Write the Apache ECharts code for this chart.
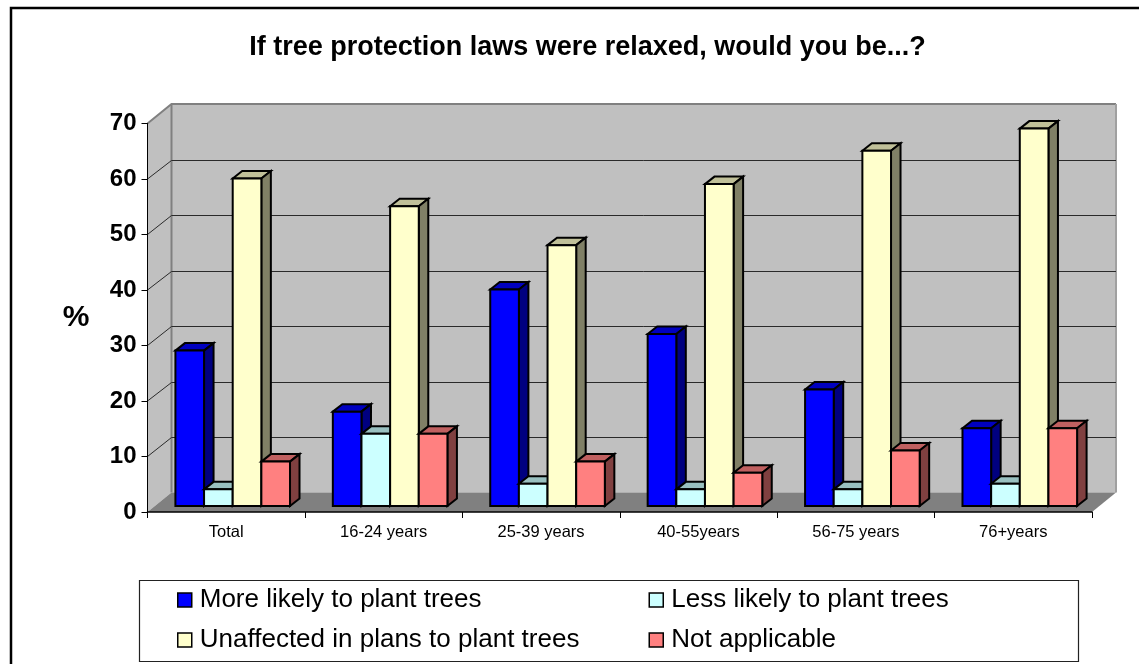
<!DOCTYPE html>
<html><head><meta charset="utf-8">
<style>html,body{margin:0;padding:0;background:#fff;overflow:hidden}#c{width:1139px;height:664px}</style>
<script src="https://cdn.jsdelivr.net/npm/echarts@6/dist/echarts.min.js"></script>
</head><body><div id="c"></div>
<script>
const categories = ['Total','16-24 years','25-39 years','40-55years','56-75 years','76+years'];
const moreLikely = [28,17,39,31,21,14];
const lessLikely = [3,13,4,3,3,4];
const unaffected = [59,54,47,58,64,68];
const notApplicable = [8,13,8,6,10,14];
const yTicks = [10,20,30,40,50,60];
const palette = [
  {name:'More likely to plant trees', values:moreLikely, front:'#0000ff', top:'#0000c0', side:'#000080'},
  {name:'Less likely to plant trees', values:lessLikely, front:'#ccffff', top:'#99c0c0', side:'#668080'},
  {name:'Unaffected in plans to plant trees', values:unaffected, front:'#ffffcc', top:'#c0c099', side:'#808066'},
  {name:'Not applicable', values:notApplicable, front:'#ff8080', top:'#c06060', side:'#804040'}
];
const DX=24, DY=-19.5;
const font='"Liberation Sans", Arial, sans-serif';
function poly(points, fill, stroke, lw){
  return {type:'polygon', shape:{points}, style:{fill, stroke:stroke||'none', lineWidth:lw||0, lineJoin:'miter'}};
}
function renderWall(params, api){
  const g=params.coordSys, l=g.x, t=g.y, r=g.x+g.width, b=g.y+g.height;
  return {type:'group', children:[
    poly([[l+DX,t+DY],[r+DX,t+DY],[r+DX,b+DY],[l+DX,b+DY]],'#c0c0c0'),
    poly([[l,t],[l+DX,t+DY],[l+DX,b+DY],[l,b]],'#c0c0c0'),
    poly([[l,b],[l+DX,b+DY],[r+DX,b+DY],[r,b]],'#808080'),
    {type:'polyline',shape:{points:[[l,t],[l+DX,t+DY],[r+DX,t+DY]]},style:{fill:'none',stroke:'#808080',lineWidth:2}},
    {type:'line',shape:{x1:l+DX,y1:t+DY,x2:l+DX,y2:b+DY},style:{stroke:'#808080',lineWidth:2}},
    {type:'line',shape:{x1:r+DX,y1:t+DY,x2:r+DX,y2:b+DY},style:{stroke:'#a0a0a0',lineWidth:2}}
  ]};
}
function renderGrid(params, api){
  const g=params.coordSys, p=api.coord([0,api.value(0)]);
  const y=p[1], l=g.x, r=g.x+g.width, by=Math.round(y+DY)+0.5;
  return {type:'polyline',shape:{points:[[l,y],[l+DX,by],[r+DX,by]]},style:{fill:'none',stroke:'#2a2a2a',lineWidth:1}};
}
function renderBar(si){
  return function(params, api){
    const c=palette[si];
    const top=api.coord([api.value(0),api.value(1)]);
    const base=api.coord([api.value(0),0]);
    const w=api.size([1,0])[0]*0.182;
    const x0=top[0]+6.5+(si-2)*w, x1=x0+w;
    const ys=base[1]-6, yt=top[1]-6;
    const dx=9.5, dy=-7.5;
    return {type:'group',children:[
      poly([[x0,yt],[x0+dx,yt+dy],[x1+dx,yt+dy],[x1,yt]],c.top,'#000',2),
      poly([[x1,yt],[x1+dx,yt+dy],[x1+dx,ys+dy],[x1,ys]],c.side,'#000',2),
      poly([[x0,yt],[x1,yt],[x1,ys],[x0,ys]],c.front,'#000',2)
    ]};
  };
}
const series=[
  {type:'custom',name:'walls',silent:true,z:1,clip:false,data:[[0]],renderItem:renderWall,encode:{x:0}},
  {type:'custom',name:'gridlines',silent:true,z:1.5,clip:false,data:yTicks.map(v=>[v]),renderItem:renderGrid,encode:{y:0}}
].concat(palette.map((s,i)=>({
  type:'custom',name:s.name,z:2,clip:false,itemStyle:{color:s.front},
  encode:{x:0,y:1},data:s.values.map((v,k)=>[k,v]),renderItem:renderBar(i)
})));
const legendBase={orient:'vertical',top:585,itemWidth:14,itemHeight:14,itemGap:10,
  textStyle:{fontFamily:font,fontSize:26,color:'#000',padding:[0,0,0,3],height:30,lineHeight:30},selectedMode:false,padding:0};
const item=(i)=>({name:palette[i].name,icon:'rect',itemStyle:{color:palette[i].front,borderColor:'#000',borderWidth:1.5}});
const chart=echarts.init(document.getElementById('c'),null,{renderer:'canvas'});
chart.setOption({
  animation:false,backgroundColor:'#fff',
  title:{text:'If tree protection laws were relaxed, would you be...?',left:587.5,top:34,padding:0,textAlign:'center',
    textStyle:{fontFamily:font,fontSize:27,fontWeight:'bold',color:'#000'}},
  grid:{left:147.5,right:47,top:123.5,bottom:152,containLabel:false},
  xAxis:{type:'category',data:categories,z:5,
    axisLine:{lineStyle:{color:'#000',width:1.5}},axisTick:{show:true,length:6,lineStyle:{color:'#000',width:1},alignWithLabel:false},
    axisLabel:{fontFamily:font,fontSize:16.5,color:'#000',margin:12,interval:0},splitLine:{show:false}},
  yAxis:{type:'value',min:0,max:70,interval:10,z:5,name:'%',nameLocation:'middle',nameRotate:0,nameGap:58,
    nameTextStyle:{fontFamily:font,fontSize:30,fontWeight:'bold',color:'#000',padding:[6,0,0,0]},
    axisLine:{show:true,lineStyle:{color:'#000',width:1}},axisTick:{show:true,length:6,lineStyle:{color:'#000',width:1}},
    axisLabel:{fontFamily:font,fontSize:24,fontWeight:'bold',color:'#000',margin:11},splitLine:{show:false}},
  legend:[
    Object.assign({},legendBase,{left:177,data:[item(0),item(2)]}),
    Object.assign({},legendBase,{left:648.5,data:[item(1),item(3)]})
  ],
  graphic:[
    {type:'rect',z:-1,shape:{x:11,y:8,width:1300,height:800},style:{fill:'#fff',stroke:'#000',lineWidth:2.5}},
    {type:'rect',z:0,shape:{x:139.5,y:580.5,width:939,height:81},style:{fill:'#fff',stroke:'#222',lineWidth:1.2}}
  ],
  series
});
</script></body></html>
